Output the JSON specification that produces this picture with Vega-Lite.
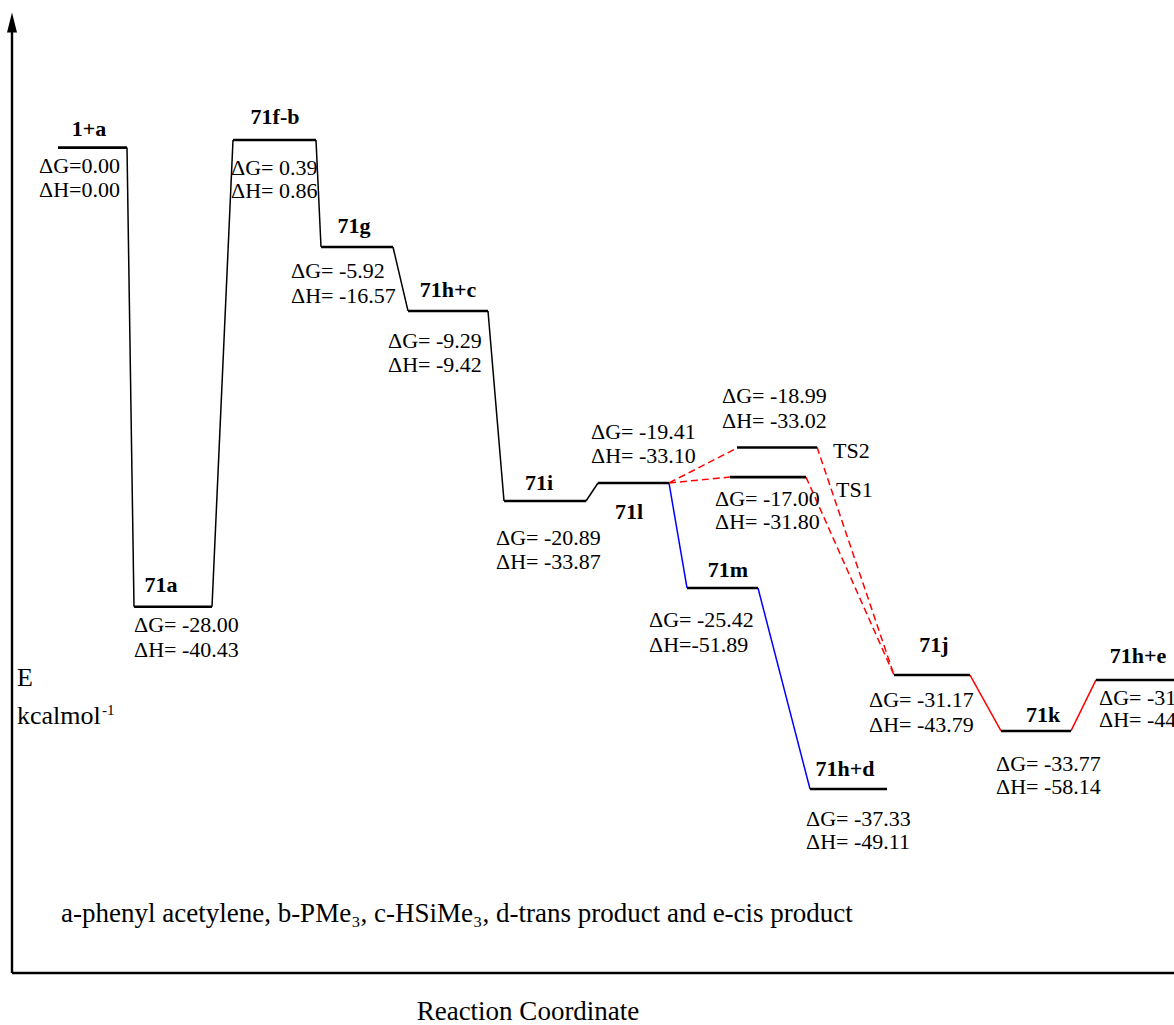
{
  "$schema": "https://vega.github.io/schema/vega-lite/v6.json",
  "width": 1174,
  "height": 1025,
  "autosize": {"type": "none"},
  "padding": 0,
  "background": "white",
  "config": {
    "view": {"stroke": null},
    "font": "Liberation Serif",
    "text": {"font": "Liberation Serif", "fontSize": 22, "color": "black", "baseline": "alphabetic"}
  },
  "datasets": {
    "axes": [
      {"x": 12, "y": -50.33, "x2": 12, "y2": 7.3},
      {"x": 12, "y": -50.33, "x2": 1174, "y2": -50.33}
    ],
    "arrow": [{"x": 12, "y": 7.63}],
    "levels": [
      {"name": "1+a", "x": 58, "x2": 127, "y": 0.0},
      {"name": "71a", "x": 134, "x2": 212, "y": -28.0},
      {"name": "71f-b", "x": 233, "x2": 316, "y": 0.46},
      {"name": "71g", "x": 321, "x2": 393, "y": -6.06},
      {"name": "71h+c", "x": 408, "x2": 488, "y": -9.96},
      {"name": "71i", "x": 504, "x2": 586, "y": -21.55},
      {"name": "71l", "x": 598, "x2": 669, "y": -20.45},
      {"name": "TS2", "x": 737, "x2": 817, "y": -18.29},
      {"name": "TS1", "x": 730, "x2": 806, "y": -20.09},
      {"name": "71m", "x": 687, "x2": 758, "y": -26.85},
      {"name": "71h+d", "x": 810, "x2": 887, "y": -39.11},
      {"name": "71j", "x": 894, "x2": 970, "y": -32.16},
      {"name": "71k", "x": 1001, "x2": 1071, "y": -35.57},
      {"name": "71h+e", "x": 1096, "x2": 1180, "y": -32.46}
    ],
    "links": [
      {"x": 127, "y": 0.0, "x2": 134, "y2": -28.0, "kind": "black"},
      {"x": 212, "y": -28.0, "x2": 233, "y2": 0.46, "kind": "black"},
      {"x": 316, "y": 0.46, "x2": 321, "y2": -6.06, "kind": "black"},
      {"x": 393, "y": -6.06, "x2": 408, "y2": -9.96, "kind": "black"},
      {"x": 488, "y": -9.96, "x2": 504, "y2": -21.55, "kind": "black"},
      {"x": 586, "y": -21.55, "x2": 598, "y2": -20.45, "kind": "black"},
      {"x": 669, "y": -20.45, "x2": 687, "y2": -26.85, "kind": "blue"},
      {"x": 758, "y": -26.85, "x2": 810, "y2": -39.11, "kind": "blue"},
      {"x": 669, "y": -20.45, "x2": 737, "y2": -18.32, "kind": "reddash"},
      {"x": 669, "y": -20.45, "x2": 730, "y2": -20.09, "kind": "reddash"},
      {"x": 817, "y": -18.26, "x2": 894, "y2": -32.16, "kind": "reddash"},
      {"x": 806, "y": -20.09, "x2": 894, "y2": -32.16, "kind": "reddash"},
      {"x": 970, "y": -32.16, "x2": 1001, "y2": -35.57, "kind": "red"},
      {"x": 1071, "y": -35.57, "x2": 1096, "y2": -32.46, "kind": "red"}
    ],
    "names": [
      {"x": 89, "y": 0.71, "t": "1+a"},
      {"x": 275, "y": 1.44, "t": "71f-b"},
      {"x": 354, "y": -5.21, "t": "71g"},
      {"x": 448, "y": -9.11, "t": "71h+c"},
      {"x": 161, "y": -27.1, "t": "71a"},
      {"x": 539, "y": -20.88, "t": "71i"},
      {"x": 629, "y": -22.65, "t": "71l"},
      {"x": 728, "y": -26.18, "t": "71m"},
      {"x": 845, "y": -38.32, "t": "71h+d"},
      {"x": 934, "y": -30.76, "t": "71j"},
      {"x": 1043, "y": -35.02, "t": "71k"},
      {"x": 1138, "y": -31.43, "t": "71h+e"}
    ],
    "energies": [
      {"x": 39, "y": -1.55, "t": "ΔG=0.00"},
      {"x": 39, "y": -3.01, "t": "ΔH=0.00"},
      {"x": 231, "y": -1.67, "t": "ΔG= 0.39"},
      {"x": 231, "y": -3.07, "t": "ΔH= 0.86"},
      {"x": 291, "y": -7.95, "t": "ΔG= -5.92"},
      {"x": 291, "y": -9.48, "t": "ΔH= -16.57"},
      {"x": 388, "y": -12.22, "t": "ΔG= -9.29"},
      {"x": 388, "y": -13.68, "t": "ΔH= -9.42"},
      {"x": 134, "y": -29.54, "t": "ΔG= -28.00"},
      {"x": 134, "y": -31.06, "t": "ΔH= -40.43"},
      {"x": 496, "y": -24.23, "t": "ΔG= -20.89"},
      {"x": 496, "y": -25.7, "t": "ΔH= -33.87"},
      {"x": 591, "y": -17.77, "t": "ΔG= -19.41"},
      {"x": 591, "y": -19.23, "t": "ΔH= -33.10"},
      {"x": 722, "y": -15.57, "t": "ΔG= -18.99"},
      {"x": 722, "y": -17.1, "t": "ΔH= -33.02"},
      {"x": 715, "y": -21.85, "t": "ΔG= -17.00"},
      {"x": 715, "y": -23.26, "t": "ΔH= -31.80"},
      {"x": 649, "y": -29.23, "t": "ΔG= -25.42"},
      {"x": 649, "y": -30.76, "t": "ΔH=-51.89"},
      {"x": 806, "y": -41.37, "t": "ΔG= -37.33"},
      {"x": 806, "y": -42.77, "t": "ΔH= -49.11"},
      {"x": 869, "y": -34.11, "t": "ΔG= -31.17"},
      {"x": 869, "y": -35.63, "t": "ΔH= -43.79"},
      {"x": 996, "y": -38.01, "t": "ΔG= -33.77"},
      {"x": 996, "y": -39.41, "t": "ΔH= -58.14"},
      {"x": 1099, "y": -33.99, "t": "ΔG= -31.39"},
      {"x": 1099, "y": -35.33, "t": "ΔH= -44.50"},
      {"x": 833, "y": -18.93, "t": "TS2"},
      {"x": 836, "y": -21.3, "t": "TS1"}
    ],
    "unit": [
      {"x": 17, "y": -32.83, "t": "E"},
      {"x": 17, "y": -35.15, "t": "kcalmol"}
    ],
    "sup": [{"x": 102, "y": -34.6, "t": "-1"}],
    "note": [{"x": 61, "y": -47.22, "t": "a-phenyl acetylene, b-PMe₃, c-HSiMe₃, d-trans product and e-cis product"}],
    "title": [{"x": 528, "y": -53.2, "t": "Reaction Coordinate"}]
  },
  "encoding": {
    "x": {"field": "x", "type": "quantitative", "scale": {"domain": [0, 1174], "nice": false, "zero": false}, "axis": null},
    "y": {"field": "y", "type": "quantitative", "scale": {"domain": [-53.5, 9], "nice": false, "zero": false}, "axis": null}
  },
  "layer": [
    {
      "data": {"name": "axes"},
      "mark": {"type": "rule", "color": "black", "strokeWidth": 2.4},
      "encoding": {"x2": {"field": "x2"}, "y2": {"field": "y2"}}
    },
    {
      "data": {"name": "arrow"},
      "mark": {"type": "point", "shape": "M0,-1L0.5,1L-0.5,1Z", "filled": true, "color": "black", "size": 400, "opacity": 1},
      "encoding": {}
    },
    {
      "data": {"name": "links"},
      "transform": [{"filter": "datum.kind === 'black'"}],
      "mark": {"type": "rule", "color": "black", "strokeWidth": 1.5},
      "encoding": {"x2": {"field": "x2"}, "y2": {"field": "y2"}}
    },
    {
      "data": {"name": "links"},
      "transform": [{"filter": "datum.kind === 'blue'"}],
      "mark": {"type": "rule", "color": "#0000ff", "strokeWidth": 1.5},
      "encoding": {"x2": {"field": "x2"}, "y2": {"field": "y2"}}
    },
    {
      "data": {"name": "links"},
      "transform": [{"filter": "datum.kind === 'red'"}],
      "mark": {"type": "rule", "color": "#ff0000", "strokeWidth": 1.5},
      "encoding": {"x2": {"field": "x2"}, "y2": {"field": "y2"}}
    },
    {
      "data": {"name": "links"},
      "transform": [{"filter": "datum.kind === 'reddash'"}],
      "mark": {"type": "rule", "color": "#ff0000", "strokeWidth": 1.5, "strokeDash": [7, 4]},
      "encoding": {"x2": {"field": "x2"}, "y2": {"field": "y2"}}
    },
    {
      "data": {"name": "levels"},
      "mark": {"type": "rule", "color": "black", "strokeWidth": 2.6},
      "encoding": {"x2": {"field": "x2"}}
    },
    {
      "data": {"name": "names"},
      "mark": {"type": "text", "font": "Liberation Serif", "fontWeight": "bold", "align": "center", "baseline": "alphabetic", "fontSize": 22},
      "encoding": {"text": {"field": "t"}}
    },
    {
      "data": {"name": "energies"},
      "mark": {"type": "text", "font": "Liberation Serif", "align": "left", "baseline": "alphabetic", "fontSize": 22},
      "encoding": {"text": {"field": "t"}}
    },
    {
      "data": {"name": "unit"},
      "mark": {"type": "text", "font": "Liberation Serif", "align": "left", "baseline": "alphabetic", "fontSize": 26},
      "encoding": {"text": {"field": "t"}}
    },
    {
      "data": {"name": "sup"},
      "mark": {"type": "text", "font": "Liberation Serif", "align": "left", "baseline": "alphabetic", "fontSize": 15},
      "encoding": {"text": {"field": "t"}}
    },
    {
      "data": {"name": "note"},
      "mark": {"type": "text", "font": "Liberation Serif", "align": "left", "baseline": "alphabetic", "fontSize": 27},
      "encoding": {"text": {"field": "t"}}
    },
    {
      "data": {"name": "title"},
      "mark": {"type": "text", "font": "Liberation Serif", "align": "center", "baseline": "alphabetic", "fontSize": 27},
      "encoding": {"text": {"field": "t"}}
    }
  ]
}
